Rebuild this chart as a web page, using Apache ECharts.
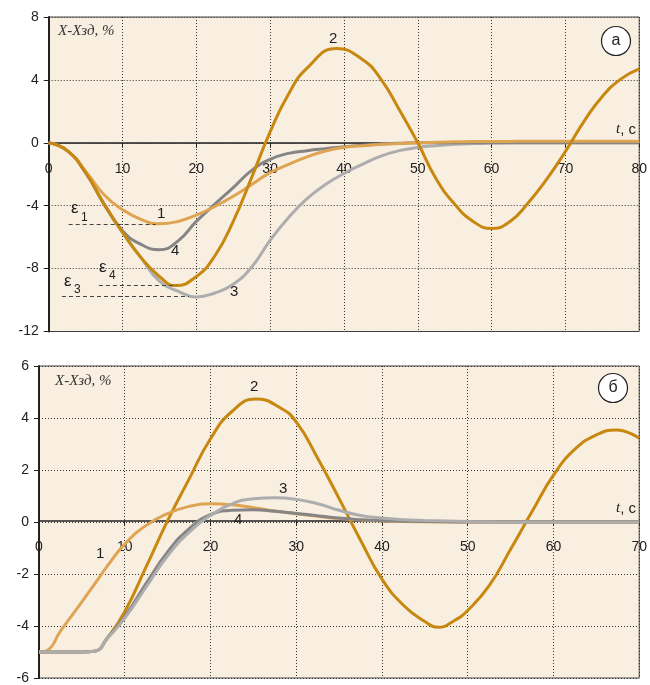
<!DOCTYPE html>
<html>
<head>
<meta charset="utf-8">
<script src="https://cdn.jsdelivr.net/npm/echarts@6/dist/echarts.min.js"></script>
<style>
  html, body { margin: 0; padding: 0; background: #fff; }
  #chart { width: 650px; height: 685px; }
</style>
</head>
<body>
<div id="chart"></div>
<script>
// панель а: время, с
var tA = [0, 2.5, 5, 7.5, 10, 12.5, 15, 17.5, 20, 22.5, 25, 27.5, 30, 32.5, 35, 37.5, 40,
          42.5, 45, 47.5, 50, 52.5, 55, 57.5, 60, 62.5, 65, 67.5, 70, 72.5, 75, 77.5, 80];
var a1 = [0, -0.5, -1.8, -3.3, -4.25, -4.87, -5.15, -5.0, -4.6, -4.05, -3.4, -2.65, -1.9, -1.37, -0.9, -0.52, -0.3,
          -0.18, -0.1, -0.04, 0, 0.04, 0.06, 0.08, 0.08, 0.09, 0.1, 0.1, 0.1, 0.1, 0.1, 0.1, 0.1];
var a3 = [0, -0.5, -1.9, -3.9, -5.7, -7.3, -8.8, -9.44, -9.8, -9.55, -9.0, -7.9, -6.2, -4.75, -3.55, -2.65, -1.95,
          -1.37, -0.85, -0.5, -0.3, -0.18, -0.1, -0.05, -0.02, 0, 0, 0, 0, 0, 0, 0, 0];
var a4 = [0, -0.5, -1.9, -3.9, -5.6, -6.46, -6.8, -6.25, -5.0, -3.9, -2.85, -1.75, -1.05, -0.67, -0.5, -0.37, -0.25,
          -0.15, -0.08, -0.03, 0, 0, 0, 0, 0, 0, 0, 0, 0, 0, 0, 0, 0];
// кривая 2 снята в своих точках (с экстремумами)
var tA2 = [0, 2.5, 5, 7.5, 10, 12.5, 15, 17.2, 20, 22.5, 25, 27.5, 30, 32.5, 35, 39, 42.5,
           45, 47.5, 50, 52.5, 55, 57.5, 60, 62.5, 65, 67.5, 70, 72.5, 75, 77.5, 80];
var a2 = [0, -0.5, -1.9, -3.9, -5.7, -7.3, -8.5, -9.08, -8.5, -7.2, -5.0, -2.2, 0.7, 3.1, 4.75, 6.0, 5.3,
          4.05, 2.1, 0, -2.3, -3.9, -5.0, -5.45, -5.0, -3.8, -2.3, -0.55, 1.35, 2.95, 4.05, 4.7];
// уровни ε1, ε4, ε3 и границы штриховых линий
var epsLevel = [-5.2, -9.03, -9.78];
var epsFrom = [2.7, 6.8, 1.8];
var epsTo = [14.5, 17.3, 19.0];

// панель б
var tB = [0, 1, 2.5, 5, 6.5, 8, 10, 12.5, 15, 17.5, 20, 22.5, 25, 27.5, 30, 32.5, 35, 37.5, 40,
          42.5, 45, 47.5, 50, 52.5, 55, 57.5, 60, 62.5, 65, 67.5, 70];
var b1 = [-5, -4.93, -4.2, -3.07, -2.38, -1.68, -0.85, -0.13, 0.32, 0.6, 0.7, 0.66, 0.55, 0.42, 0.32, 0.22, 0.13, 0.08, 0.04,
          0.02, 0.01, 0, 0, 0, 0, 0, 0, 0, 0, 0, 0];
var b3 = [-5, -5, -5, -5, -4.97, -4.47, -3.7, -2.5, -1.3, -0.4, 0.25, 0.7, 0.89, 0.93, 0.87, 0.7, 0.45, 0.25, 0.15,
          0.09, 0.06, 0.04, 0.02, 0.01, 0, 0, 0, 0, 0, 0, 0];
var b4 = [-5, -5, -5, -5, -4.97, -4.45, -3.64, -2.36, -1.15, -0.26, 0.28, 0.45, 0.47, 0.41, 0.33, 0.24, 0.15, 0.09, 0.05,
          0.03, 0.02, 0.01, 0, 0, 0, 0, 0, 0, 0, 0, 0];
var tB2 = [0, 5, 6.5, 8, 10, 12.5, 15, 17.5, 20, 22.5, 25.3, 28, 30, 32.5, 35, 37.5, 40, 42.5, 45, 46.5,
           48.5, 50, 52.5, 55, 57.5, 60, 62.5, 65, 67.3, 70];
var b2 = [-5, -5, -4.97, -4.45, -3.45, -1.72, 0.05, 1.65, 3.2, 4.25, 4.73, 4.42, 3.85, 2.45, 0.9, -0.7, -2.2, -3.2, -3.83, -4.05,
          -3.78, -3.4, -2.45, -1.05, 0.4, 1.8, 2.8, 3.35, 3.54, 3.22];

var cDarkOr = '#c8870e', cLightOr = '#dea452', cDarkGr = '#858585', cLightGr = '#adadad';
var font = '"Liberation Sans", Arial, sans-serif';

function pairs(t, v) {
    return t.map(function (x, i) { return [x, v[i]]; });
}
function line(name, t, v, color, idx) {
    return {
        name: name, type: 'line', xAxisIndex: idx, yAxisIndex: idx,
        data: pairs(t, v), smooth: 0.5, showSymbol: false, symbol: 'none',
        lineStyle: { color: color, width: 3 }, z: 3
    };
}
// ось t проходит через ноль, подписи под ней
function xAx(idx, max, off) {
    return {
        type: 'value', gridIndex: idx, min: 0, max: max, interval: 10, offset: off,
        axisLine: { onZero: false, lineStyle: { color: '#222', width: 1.5 } },
        axisTick: { show: true, length: 5, lineStyle: { color: '#222' } },
        axisLabel: { color: '#222', fontSize: 14, fontFamily: font, margin: 19 },
        splitLine: { show: true, lineStyle: { color: '#333', width: 1, type: [1, 2] } }
    };
}
function yAx(idx, min, max, step) {
    return {
        type: 'value', gridIndex: idx, min: min, max: max, interval: step,
        axisLine: { show: true, onZero: false, lineStyle: { color: '#222', width: 2 } },
        axisTick: { show: true, length: 5, lineStyle: { color: '#222' } },
        axisLabel: { color: '#222', fontSize: 14, fontFamily: font, margin: 10 },
        splitLine: { show: true, lineStyle: { color: '#333', width: 1, type: [1, 2] } }
    };
}

var epsLines = epsLevel.map(function (y, i) {
    return [{ coord: [epsFrom[i], y] }, { coord: [epsTo[i], y] }];
});

var gr = [];
function txt(x, y, s, size) {
    gr.push({ type: 'text', left: x, top: y, z: 10,
        style: { text: s, fill: '#222', font: (size || 15) + 'px ' + font } });
}
// подписи кривых, панель а
txt(157, 206, '1'); txt(329, 31, '2'); txt(230, 284, '3'); txt(171, 243, '4');
// ε
txt(71, 200, 'ε', 17); txt(81, 212, '1', 12);
txt(99, 259, 'ε', 17); txt(109, 270, '4', 12);
txt(64, 273, 'ε', 17); txt(74, 284, '3', 12);
// подписи кривых, панель б
txt(250, 379, '2'); txt(279, 481, '3'); txt(234, 512, '4'); txt(96, 546, '1');
// оси
var yName = 'Х-Хзд, %';
gr.push({ type: 'text', left: 58, top: 24, z: 10, style: { text: yName, fill: '#333', font: 'italic 15px "Liberation Serif", serif' } });
gr.push({ type: 'text', left: 55, top: 374, z: 10, style: { text: yName, fill: '#333', font: 'italic 15px "Liberation Serif", serif' } });
[122, 501].forEach(function (y) {
    gr.push({ type: 'text', left: 616, top: y, z: 10, style: {
        text: '{i|t}{n|, с}',
        rich: { i: { fontStyle: 'italic', fontSize: 15, fontFamily: '"Liberation Serif", serif', fill: '#222' },
                n: { fontSize: 15, fontFamily: font, fill: '#222' } } } });
});
// обозначения панелей
[[616, 41, 'а'], [613, 388, 'б']].forEach(function (c) {
    gr.push({ type: 'circle', shape: { cx: c[0], cy: c[1], r: 14.5 }, z: 10,
        style: { fill: '#fff', stroke: '#222', lineWidth: 1.2 } });
    gr.push({ type: 'text', z: 11, x: c[0], y: c[1],
        style: { text: c[2], fill: '#222', font: '16px ' + font, textAlign: 'center', textVerticalAlign: 'middle' } });
});

var chart = echarts.init(document.getElementById('chart'));
chart.setOption({
    animation: false,
    backgroundColor: '#fff',
    grid: [
        { left: 48.7, top: 17, width: 593.3, height: 314.5, show: true,
          backgroundColor: '#f8efe1', borderColor: '#444', borderWidth: 1 },
        { left: 39, top: 366, width: 603, height: 314.5, show: true,
          backgroundColor: '#f8efe1', borderColor: '#444', borderWidth: 1 }
    ],
    xAxis: [xAx(0, 80, -314.5 * 12 / 20), xAx(1, 70, -314.5 / 2)],
    yAxis: [yAx(0, -12, 8, 4), yAx(1, -6, 6, 2)],
    series: [
        {
            type: 'line', xAxisIndex: 0, yAxisIndex: 0, data: [], silent: true,
            markLine: { symbol: 'none', silent: true, label: { show: false },
                lineStyle: { color: '#444', width: 1, type: [4, 3] }, data: epsLines }
        },
        line('3', tA, a3, cLightGr, 0),
        line('4', tA, a4, cDarkGr, 0),
        line('1', tA, a1, cLightOr, 0),
        line('2', tA2, a2, cDarkOr, 0),
        line('2', tB2, b2, cDarkOr, 1),
        line('1', tB, b1, cLightOr, 1),
        line('4', tB, b4, cDarkGr, 1),
        line('3', tB, b3, cLightGr, 1)
    ],
    graphic: gr
});
</script>
</body>
</html>
